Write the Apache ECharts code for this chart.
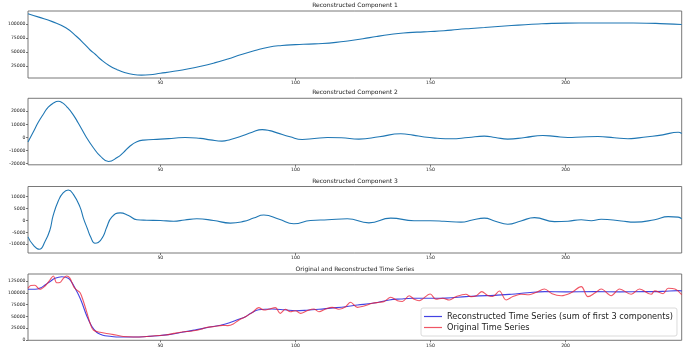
<!DOCTYPE html>
<html><head><meta charset="utf-8">
<script src="https://cdn.jsdelivr.net/npm/echarts@6/dist/echarts.min.js"></script>
<style>html,body{margin:0;padding:0;background:#fff}#c{width:685px;height:352px}</style>
</head><body><div id="c"></div>
<script>
// ---- data ----
const titles = ['Reconstructed Component 1','Reconstructed Component 2','Reconstructed Component 3','Original and Reconstructed Time Series'];
const xTickValues = [50,100,150,200];
const yTicks1 = [25000,50000,75000,100000];
const yTicks2 = [-20000,-10000,0,10000,20000];
const yTicks3 = [-10000,-5000,0,5000,10000];
const yTicks4 = [0,25000,50000,75000,100000,125000];

const c1T = [1,5,10,15,19,22,24,26,28,31,34,37,40,43,46,50,55,60,65,70,75,80,85,90,95,100,105,110,115,120,125,130,135,140,145,150,155,160,165,170,175,180,185,190,195,200,210,220,230,235,240,243];
const c1V = [118500,112500,104500,93500,78000,64000,54000,46000,37000,26500,19000,13500,10300,9300,9800,12500,16000,20000,25000,31000,38000,46000,53000,59000,62000,63500,64500,65500,67500,70500,74000,78000,81500,84300,85800,86800,88200,90500,92300,94000,95800,97500,99000,100300,101300,101800,102000,102000,101700,101000,100000,99300];

const c2T = [1,2.9,4.8,6.6,8.5,10.5,12.2,13.8,15.3,17.5,19.6,22.7,25.2,27.7,30.8,34,36.3,38.8,41.3,43.8,50,55,59.2,64.8,68.5,72.8,76,79.6,84,87.7,90.5,93.2,98,102.5,107,111.8,117,123.5,131,139,143.5,147.7,152.5,157.6,164,169.9,174,178.6,185,191.6,196,200.9,206,212,218,223.1,227,230.5,236,241.7,243];
const c2V = [-3500,4000,11500,17500,23000,26300,27500,26300,23500,18000,11000,-200,-7800,-14000,-18300,-15300,-11500,-6500,-3300,-2000,-1300,-600,0,-700,-1800,-2800,-1500,700,4000,6000,5200,3500,500,-1500,-800,0,-200,-1300,500,2800,1800,300,-600,-1000,0,1000,0,-1300,0,1500,800,0,400,700,-200,-1000,-300,500,2000,4000,3000];

const c3T = [1,2.9,5.2,7.3,9.1,10.3,12.2,14,15.9,17.8,20.3,21.5,23,24.2,25.8,27,28.9,30.1,32,35.1,38.2,41.3,45,50,54.9,59,63.5,69.7,75.9,80.8,84.5,88.3,94,99.4,105.6,112,119.2,127.2,135.3,143.9,150,155,161.3,165.5,169.9,174,178.6,183.5,188.5,195.9,200.9,205.8,209.5,213.2,220.6,225.6,233,238,241.7,243];
const c3V = [-6900,-10300,-12100,-8900,-4100,2000,8200,11600,12800,11000,5500,1000,-3500,-7000,-9600,-9300,-6500,-3000,1400,3200,2100,300,100,0,-300,200,700,0,-1100,-400,1000,2300,500,-1400,0,300,700,-1000,1000,-100,-100,-300,-700,200,1000,-300,-1600,-200,1200,-500,-300,300,-100,500,-200,-700,300,1600,1400,700];

const recT = [1,3.6,5.5,7.3,9.2,11,13.5,15.9,17.2,18.4,19.7,20.9,22.7,24.6,26.4,28,29.5,32,34.5,40.7,45,49.3,53,58,63,67.9,74.1,79,81.5,83.3,86.4,91.4,96,100,104,108.7,113,118.6,123,128.5,134.7,139,143.3,150,155.7,163.1,168,173.6,180,186,192.2,200,210.7,220,229.3,236,241.7,243];
const recV = [107400,107400,110000,116500,124000,130700,134000,130700,122000,110000,96000,80000,52000,29000,16500,11500,9100,7500,6400,6400,7500,9100,11500,16300,21500,26900,33900,43900,49400,56000,64000,65700,64000,62100,63000,65000,67500,70600,74000,77700,84800,87000,88400,88400,88800,91800,93500,94500,97000,100000,102400,102000,102500,102000,102400,103000,104500,104000];

const origT = [1,2,3.5,5.4,7.3,9.1,10.4,11.6,12.8,14.1,15.3,16.5,18,19,20.3,21.5,22.7,24,25.2,27.7,31.4,34,36.3,40,44,48,52,55,58,61,63,65.4,67,70,73,75,77,79,81.5,84,86.4,88.3,90,92.6,94.4,96.3,98.1,100,101.9,104.3,106.8,108.7,111.2,113.6,116.1,118.6,120.4,122.9,125.4,128.5,131,132.9,135.3,137.8,139.6,142.1,144,145.8,149.9,152,154.5,157,159.4,163.1,165,167,169,171,173,175.5,178,180.5,183.5,186.5,189,192.2,195,198.4,202,205.8,208.3,211,213.2,216.9,220,224.3,227.4,231.7,233,236.1,238,240.5,243];
const origV = [109500,115500,116000,107400,114400,127100,135600,121400,122000,130700,135600,131000,112000,106000,100000,82000,60000,35400,21200,16300,12700,10000,7500,6500,7000,9000,10500,14000,17000,18500,20000,23500,26500,28500,31000,30500,34000,42000,49400,58000,68500,63600,65000,68500,56500,65000,60000,62100,56500,62100,65700,60000,65700,69200,65000,70600,79900,69200,72000,77700,79900,81700,90500,83300,81700,93900,86200,83300,97500,86200,88400,84800,91800,97000,91800,94000,102400,95000,92000,103800,84800,92000,97000,96000,100500,108000,98000,93900,100000,113000,91800,100000,108000,93900,108000,96800,108000,96800,104000,98000,109500,108000,96000];

const yRanges = [[4100,123400],[-20800,29800],[-13700,14300],[-600,139800]];
const yTickSets = [yTicks1,yTicks2,yTicks3,yTicks4];

// ---- layout / style ----
const FONT = 'DejaVu Sans';
const gridBoxes = [{top:11,h:67},{top:98.3,h:66.5},{top:186.5,h:66.5},{top:274,h:66.3}];
const titleTops = [2.3,89.5,178,266];
const zip = (t,v) => t.map((x,i)=>[x,v[i]]);

const grid = gridBoxes.map(g => ({left:28, right:3.3, top:g.top, height:g.h, show:true, borderColor:'#6a6a6a', borderWidth:0.9, containLabel:false}));
const xAxis = gridBoxes.map((g,i) => ({
  type:'value', gridIndex:i, min:1, max:243, position:'bottom',
  axisLine:{show:false, onZero:false}, splitLine:{show:false},
  axisTick:{show:true, customValues:xTickValues, length:2, lineStyle:{color:'#555', width:0.8}},
  axisLabel:{customValues:xTickValues, fontSize:4.6, fontFamily:FONT, color:'#222', margin:2.5, formatter:v=>String(v)}
}));
const yAxis = gridBoxes.map((g,i) => ({
  type:'value', gridIndex:i, min:yRanges[i][0], max:yRanges[i][1], position:'left',
  axisLine:{show:false, onZero:false}, splitLine:{show:false},
  axisTick:{show:true, customValues:yTickSets[i], length:2, lineStyle:{color:'#555', width:0.8}},
  axisLabel:{customValues:yTickSets[i], fontSize:4.6, fontFamily:FONT, color:'#222', margin:2.5, formatter:v=>String(v)}
}));
const title = titles.map((t,i) => ({text:t, left:355, textAlign:'center', top:titleTops[i], padding:0, textStyle:{fontSize:6, fontWeight:'normal', fontFamily:FONT, color:'#222'}}));

const compLine = {type:'line', smooth:0.5, symbol:'none', showSymbol:false, lineStyle:{color:'#1f77b4', width:1.1}, itemStyle:{color:'#1f77b4'}, silent:true, animation:false};
const BLUE = 'rgba(20,20,220,0.8)';
const RED = 'rgba(235,30,50,0.75)';
const series = [
  Object.assign({}, compLine, {xAxisIndex:0, yAxisIndex:0, data:zip(c1T,c1V)}),
  Object.assign({}, compLine, {xAxisIndex:1, yAxisIndex:1, data:zip(c2T,c2V)}),
  Object.assign({}, compLine, {xAxisIndex:2, yAxisIndex:2, data:zip(c3T,c3V)}),
  {type:'line', name:'Reconstructed Time Series (sum of first 3 components)', xAxisIndex:3, yAxisIndex:3, smooth:0.4, symbol:'none', showSymbol:false,
   lineStyle:{color:BLUE, width:1.1}, itemStyle:{color:BLUE}, data:zip(recT,recV), animation:false},
  {type:'line', name:'Original Time Series', xAxisIndex:3, yAxisIndex:3, smooth:0.35, symbol:'none', showSymbol:false,
   lineStyle:{color:RED, width:1.1}, itemStyle:{color:RED}, data:zip(origT,origV), animation:false}
];

const chart = echarts.init(document.getElementById('c'), null, {renderer:'canvas'});
chart.setOption({
  animation:false,
  backgroundColor:'#fff',
  title, grid, xAxis, yAxis, series,
  legend:{
    data:[{name:'Reconstructed Time Series (sum of first 3 components)', icon:'rect'},{name:'Original Time Series', icon:'rect'}],
    orient:'vertical', left:421, top:308, itemWidth:18, itemHeight:1.2, itemGap:3,
    padding:[4.5,4,4.5,3], borderColor:'#d0d0d0', borderWidth:0.8, borderRadius:2, backgroundColor:'rgba(255,255,255,0.85)',
    textStyle:{fontSize:8.2, fontFamily:FONT, color:'#222', lineHeight:8}, selectedMode:false
  }
});
</script></body></html>
